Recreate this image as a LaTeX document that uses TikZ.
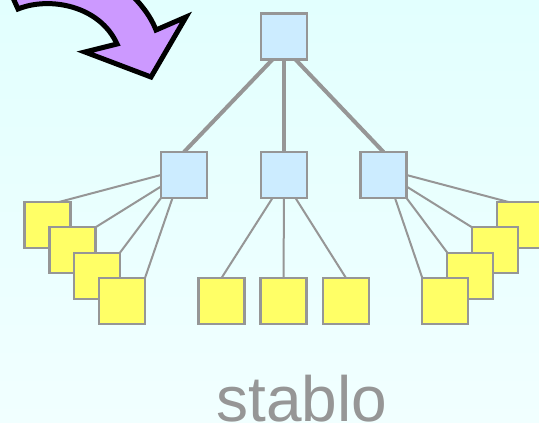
\documentclass[tikz,border=0pt]{standalone}
\usepackage{fontspec}
\setmainfont{Liberation Sans}
\usetikzlibrary{calc}
\definecolor{bgtop}{RGB}{226,255,254}
\definecolor{bgbot}{RGB}{241,255,255}
\definecolor{boxblue}{RGB}{204,236,255}
\definecolor{boxyellow}{RGB}{255,255,102}
\definecolor{edgegray}{RGB}{150,150,150}
\definecolor{arrowpurple}{RGB}{204,153,255}
\tikzset{
  bluebox/.style={draw=edgegray, fill=boxblue, line width=2.2pt, minimum size=46pt, inner sep=0pt, outer sep=0pt},
  leafbox/.style={draw=edgegray, fill=boxyellow, line width=2.2pt, minimum size=46pt, inner sep=0pt, outer sep=0pt},
  trunk/.style={draw=edgegray, line width=4pt},
  twig/.style={draw=edgegray, line width=2pt},
}
\begin{document}
\begin{tikzpicture}[x=1pt, y=-1pt]
  % canvas
  \useasboundingbox (0,0) rectangle (539,423);
  \shade[top color=bgtop, bottom color=bgbot] (0,0) rectangle (539,423);

  % curved purple arrow in the top left corner
  \begin{scope}
    \clip (0,0) rectangle (539,423);
    \draw[line width=5pt, line join=miter, fill=arrowpurple]
      (22,-42) .. controls (92,-47) and (142,-6) .. (156,30)
      -- (186,17) -- (151,77) -- (85,52) -- (117,44)
      .. controls (100,6) and (50,-4) .. (18,9)
      -- (4,-22) -- cycle;
  \end{scope}

  % inner tree nodes
  \node[bluebox] (root) at (284,36.5) {};
  \node[bluebox] (m1) at (184,175) {};
  \node[bluebox] (m2) at (284,175) {};
  \node[bluebox] (m3) at (383.5,175) {};

  % thick connectors from the root
  \draw[trunk] ($(root.south west)!0.25!(root.south east)$) -- (m1.north);
  \draw[trunk] (root.south) -- (m2.north);
  \draw[trunk] ($(root.south west)!0.75!(root.south east)$) -- (m3.north);

  % leaves, each stack drawn front to back so later boxes overlap earlier ones
  \node[leafbox] (L1) at (47.5,225) {};
  \node[leafbox] (L2) at (72.5,250.3) {};
  \node[leafbox] (L3) at (97,275.6) {};
  \node[leafbox] (L4) at (122,301) {};
  \node[leafbox] (B1) at (221.5,301) {};
  \node[leafbox] (B2) at (283.5,301) {};
  \node[leafbox] (B3) at (346,301) {};
  \node[leafbox] (R1) at (520,225) {};
  \node[leafbox] (R2) at (495,250.3) {};
  \node[leafbox] (R3) at (470.3,275.6) {};
  \node[leafbox] (R4) at (445.3,301) {};

  % thin connectors to the leaves
  \draw[twig] (m1.west) -- ($(L1.north west)!0.75!(L1.north east)$);
  \draw[twig] ($(m1.west)!0.5!(m1.south west)$) -- (L2.north east);
  \draw[twig] (m1.south west) -- (L3.north east);
  \draw[twig] ($(m1.south west)!0.25!(m1.south east)$) -- (L4.north east);

  \draw[twig] ($(m2.south west)!0.25!(m2.south east)$) -- (B1.north);
  \draw[twig] (m2.south) -- (B2.north);
  \draw[twig] ($(m2.south west)!0.75!(m2.south east)$) -- (B3.north);

  \draw[twig] (m3.east) -- ($(R1.north west)!0.25!(R1.north east)$);
  \draw[twig] ($(m3.east)!0.5!(m3.south east)$) -- (R2.north west);
  \draw[twig] (m3.south east) -- (R3.north west);
  \draw[twig] ($(m3.south east)!0.25!(m3.south west)$) -- (R4.north west);

  % redraw the parent boxes so the connectors meet their borders cleanly
  \node[bluebox] at (m1) {};
  \node[bluebox] at (m3) {};

  % caption
  \node[anchor=base, text=edgegray, inner sep=0pt] (caption) at (302,421)
    {\fontsize{64}{64}\selectfont stablo};
\end{tikzpicture}
\end{document}
